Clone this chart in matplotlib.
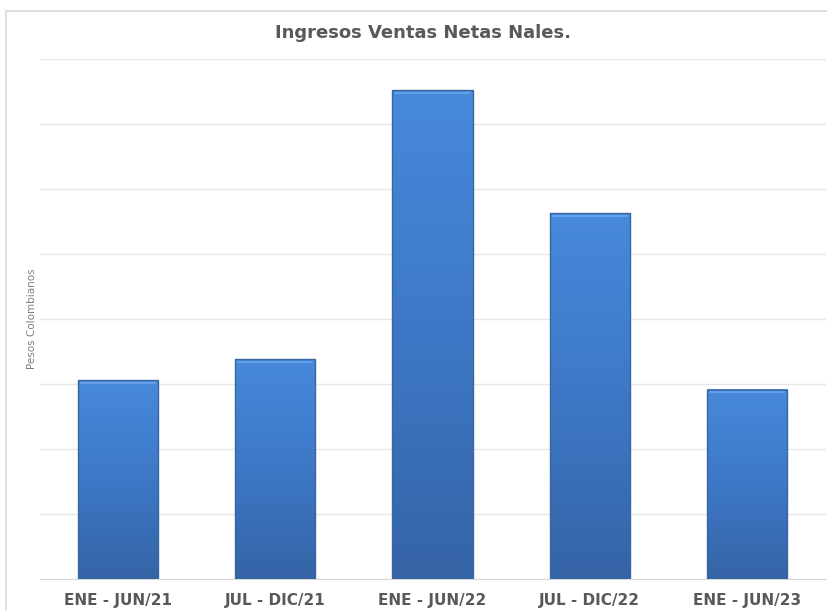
import numpy as np
import matplotlib.pyplot as plt
from matplotlib.patches import Rectangle
from matplotlib.colors import LinearSegmentedColormap

periodos = ["ENE - JUN/21", "JUL - DIC/21", "ENE - JUN/22", "JUL - DIC/22", "ENE - JUN/23"]
ingresos = [3.06, 3.38, 7.52, 5.63, 2.91]

W, H = 827, 610
fig = plt.figure(figsize=(W / 100, H / 100), dpi=100)

# outer frame like the original export
fig.patches.append(Rectangle((6 / W, -0.01), 1, 1.01 - 11 / H, transform=fig.transFigure,
                             fill=False, edgecolor="#d9d9d9", linewidth=1.2))

ax = fig.add_axes([39.5 / W, 31 / H, 786 / W, 520 / H])
x = np.arange(len(periodos))
bars = ax.bar(x, ingresos, width=0.51, color="none", zorder=3)

cmap = LinearSegmentedColormap.from_list("azul", ["#3564a6", "#3d78c6", "#4789db"])
grad = np.linspace(0, 1, 256).reshape(-1, 1)
for b in bars:
    x0, y0 = b.get_x(), b.get_y()
    w, h = b.get_width(), b.get_height()
    ax.imshow(grad, cmap=cmap, origin="lower", aspect="auto",
              extent=[x0, x0 + w, y0, y0 + h], zorder=3)
    # bevel edges
    ax.add_patch(Rectangle((x0, y0), w, h, fill=False, edgecolor="#3a66a0",
                           linewidth=1.0, zorder=4))
    ax.plot([x0 + 0.02, x0 + w - 0.02], [y0 + h - 0.04, y0 + h - 0.04],
            color="#64a0e8", linewidth=1.5, zorder=5)

ax.set_xlim(-0.5, len(periodos) - 0.5)
ax.set_ylim(0, 8)
ax.set_yticks(np.arange(0, 9))
ax.set_yticklabels([])
ax.tick_params(axis="y", length=0, pad=0)
ax.tick_params(axis="x", length=0, pad=10)
ax.set_xticks(x)
ax.set_xticklabels(periodos, fontsize=11, fontweight="bold", color="#595959")
ax.grid(axis="y", color="#e6e6e6", linewidth=1.0, zorder=0)
for s in ["top", "right", "left"]:
    ax.spines[s].set_visible(False)
ax.spines["bottom"].set_color("#d9d9d9")
ax.set_ylabel("Pesos Colombianos", fontsize=7.5, color="#7f7f7f", labelpad=2)

fig.text(423 / W, 1 - 33 / H, "Ingresos Ventas Netas Nales.", ha="center", va="center",
         fontsize=13, fontweight="bold", color="#595959")

fig.savefig("out.png", dpi=100)
